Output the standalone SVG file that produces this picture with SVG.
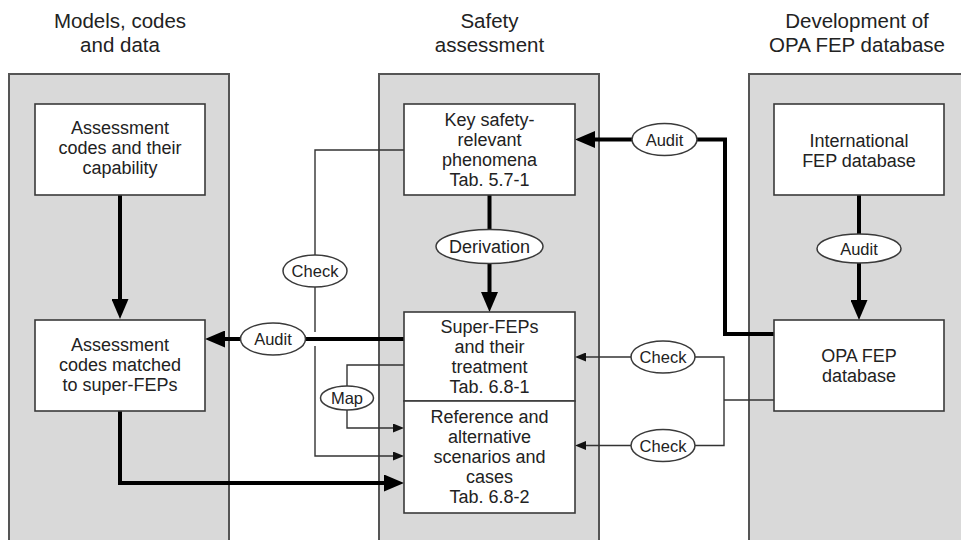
<svg xmlns="http://www.w3.org/2000/svg" width="961" height="540" viewBox="0 0 961 540">
<style>
.panel{fill:#d9d9d9;stroke:#555;stroke-width:2}
.box{fill:#fff;stroke:#3a3a3a;stroke-width:1.6}
.ell{fill:#fff;stroke:#3a3a3a;stroke-width:1.5}
.thick{fill:none;stroke:#000;stroke-width:4}
.thin{fill:none;stroke:#333;stroke-width:1.4}
.h{font-family:"Liberation Sans",Arial,sans-serif;font-size:20.5px;fill:#222;text-anchor:middle}
.t{font-family:"Liberation Sans",Arial,sans-serif;font-size:18px;fill:#222;text-anchor:middle}
.l{font-family:"Liberation Sans",Arial,sans-serif;font-size:16.5px;fill:#222;text-anchor:middle}
</style>
<defs>
<marker id="big" markerUnits="userSpaceOnUse" markerWidth="20" markerHeight="17" refX="2" refY="8.5" orient="auto" viewBox="0 0 20 17"><path d="M0,0 L20,8.5 L0,17 z" fill="#000"/></marker>
<marker id="small" markerUnits="userSpaceOnUse" markerWidth="11" markerHeight="9" refX="1" refY="4.5" orient="auto" viewBox="0 0 11 9"><path d="M0,0 L11,4.5 L0,9 z" fill="#111"/></marker>
</defs>
<rect width="961" height="540" fill="#fff"/>
<g id="headers">
<text class="h" x="120" y="28">Models, codes</text>
<text class="h" x="120" y="52">and data</text>
<text class="h" x="489.5" y="28">Safety</text>
<text class="h" x="489.5" y="52">assessment</text>
<text class="h" x="857" y="28">Development of</text>
<text class="h" x="857" y="52">OPA FEP database</text>
</g>
<g id="panels">
<rect class="panel" x="9" y="74" width="220" height="480"/>
<rect class="panel" x="379" y="74" width="220" height="480"/>
<rect class="panel" x="749" y="74" width="230" height="480"/>
</g>
<g id="connectors">
<path class="thick" d="M120,195 V301" marker-end="url(#big)"/>
<path class="thick" d="M489.5,195 V229.5"/>
<path class="thick" d="M489.5,263.5 V294" marker-end="url(#big)"/>
<path class="thick" d="M859,195 V234"/>
<path class="thick" d="M859,263 V302" marker-end="url(#big)"/>
<path class="thick" d="M632,139.5 H593" marker-end="url(#big)"/>
<path class="thick" d="M697,139.5 H725 V334 H774"/>
<path class="thin" d="M404,150 H315 V255"/>
<path class="thin" d="M315,287 V332"/>
<path class="thin" d="M315,346 V456 H394" marker-end="url(#small)"/>
<path class="thick" d="M404,339 H305.5"/>
<path class="thick" d="M240.5,339 H223" marker-end="url(#big)"/>
<path class="thin" d="M404,365 H347 V386"/>
<path class="thin" d="M347,410 V428 H394" marker-end="url(#small)"/>
<path class="thick" d="M120,411 V483 H386" marker-end="url(#big)"/>
<path class="thin" d="M774,400 H724"/>
<path class="thin" d="M695,357 H724 V445.5 H695"/>
<path class="thin" d="M631,357 H585" marker-end="url(#small)"/>
<path class="thin" d="M631,445.5 H585" marker-end="url(#small)"/>
</g>
<g id="labels">
<g id="lbl-derivation"><ellipse class="ell" cx="489.5" cy="246.5" rx="53.5" ry="17"/><text class="t" x="489.5" y="253">Derivation</text></g>
<g id="lbl-audit-right"><ellipse class="ell" cx="859" cy="248.5" rx="42" ry="14.5"/><text class="l" x="859" y="254.5">Audit</text></g>
<g id="lbl-audit-top"><ellipse class="ell" cx="664.5" cy="139.5" rx="32.5" ry="16"/><text class="l" x="664.5" y="145.5">Audit</text></g>
<g id="lbl-audit-left"><ellipse class="ell" cx="273" cy="339" rx="32.5" ry="16"/><text class="l" x="273" y="345">Audit</text></g>
<g id="lbl-check-left"><ellipse class="ell" cx="315" cy="271" rx="32" ry="16"/><text class="l" x="315" y="277">Check</text></g>
<g id="lbl-map"><ellipse class="ell" cx="347" cy="398" rx="26.5" ry="12"/><text class="l" x="347" y="404">Map</text></g>
<g id="lbl-check-r1"><ellipse class="ell" cx="663" cy="357" rx="32" ry="16"/><text class="l" x="663" y="363">Check</text></g>
<g id="lbl-check-r2"><ellipse class="ell" cx="663" cy="445.5" rx="32" ry="16"/><text class="l" x="663" y="451.5">Check</text></g>
</g>
<g id="n-codes-capability">
<rect class="box" x="35" y="104" width="170" height="91"/>
<text class="t" x="120" y="134.3">Assessment</text>
<text class="t" x="120" y="154.3">codes and their</text>
<text class="t" x="120" y="174.3">capability</text>
</g>
<g id="n-key-phenomena">
<rect class="box" x="404" y="104" width="171" height="91"/>
<text class="t" x="489.5" y="126">Key safety-</text>
<text class="t" x="489.5" y="146">relevant</text>
<text class="t" x="489.5" y="166">phenomena</text>
<text class="t" x="489.5" y="186">Tab. 5.7-1</text>
</g>
<g id="n-international">
<rect class="box" x="774" y="104" width="170" height="91"/>
<text class="t" x="859" y="147.3">International</text>
<text class="t" x="859" y="167.3">FEP database</text>
</g>
<g id="n-codes-matched">
<rect class="box" x="35" y="320" width="170" height="91"/>
<text class="t" x="120" y="351">Assessment</text>
<text class="t" x="120" y="371">codes matched</text>
<text class="t" x="120" y="391">to super-FEPs</text>
</g>
<g id="n-opa">
<rect class="box" x="774" y="320" width="170" height="91"/>
<text class="t" x="859" y="362.3">OPA FEP</text>
<text class="t" x="859" y="382.3">database</text>
</g>
<g id="n-superfeps">
<rect class="box" x="404" y="312" width="171" height="89"/>
<text class="t" x="489.5" y="332.5">Super-FEPs</text>
<text class="t" x="489.5" y="352.5">and their</text>
<text class="t" x="489.5" y="372.5">treatment</text>
<text class="t" x="489.5" y="392.5">Tab. 6.8-1</text>
</g>
<g id="n-reference">
<rect class="box" x="404" y="401" width="171" height="112"/>
<text class="t" x="489.5" y="422.7">Reference and</text>
<text class="t" x="489.5" y="442.7">alternative</text>
<text class="t" x="489.5" y="462.7">scenarios and</text>
<text class="t" x="489.5" y="483">cases</text>
<text class="t" x="489.5" y="503">Tab. 6.8-2</text>
</g>
</svg>
